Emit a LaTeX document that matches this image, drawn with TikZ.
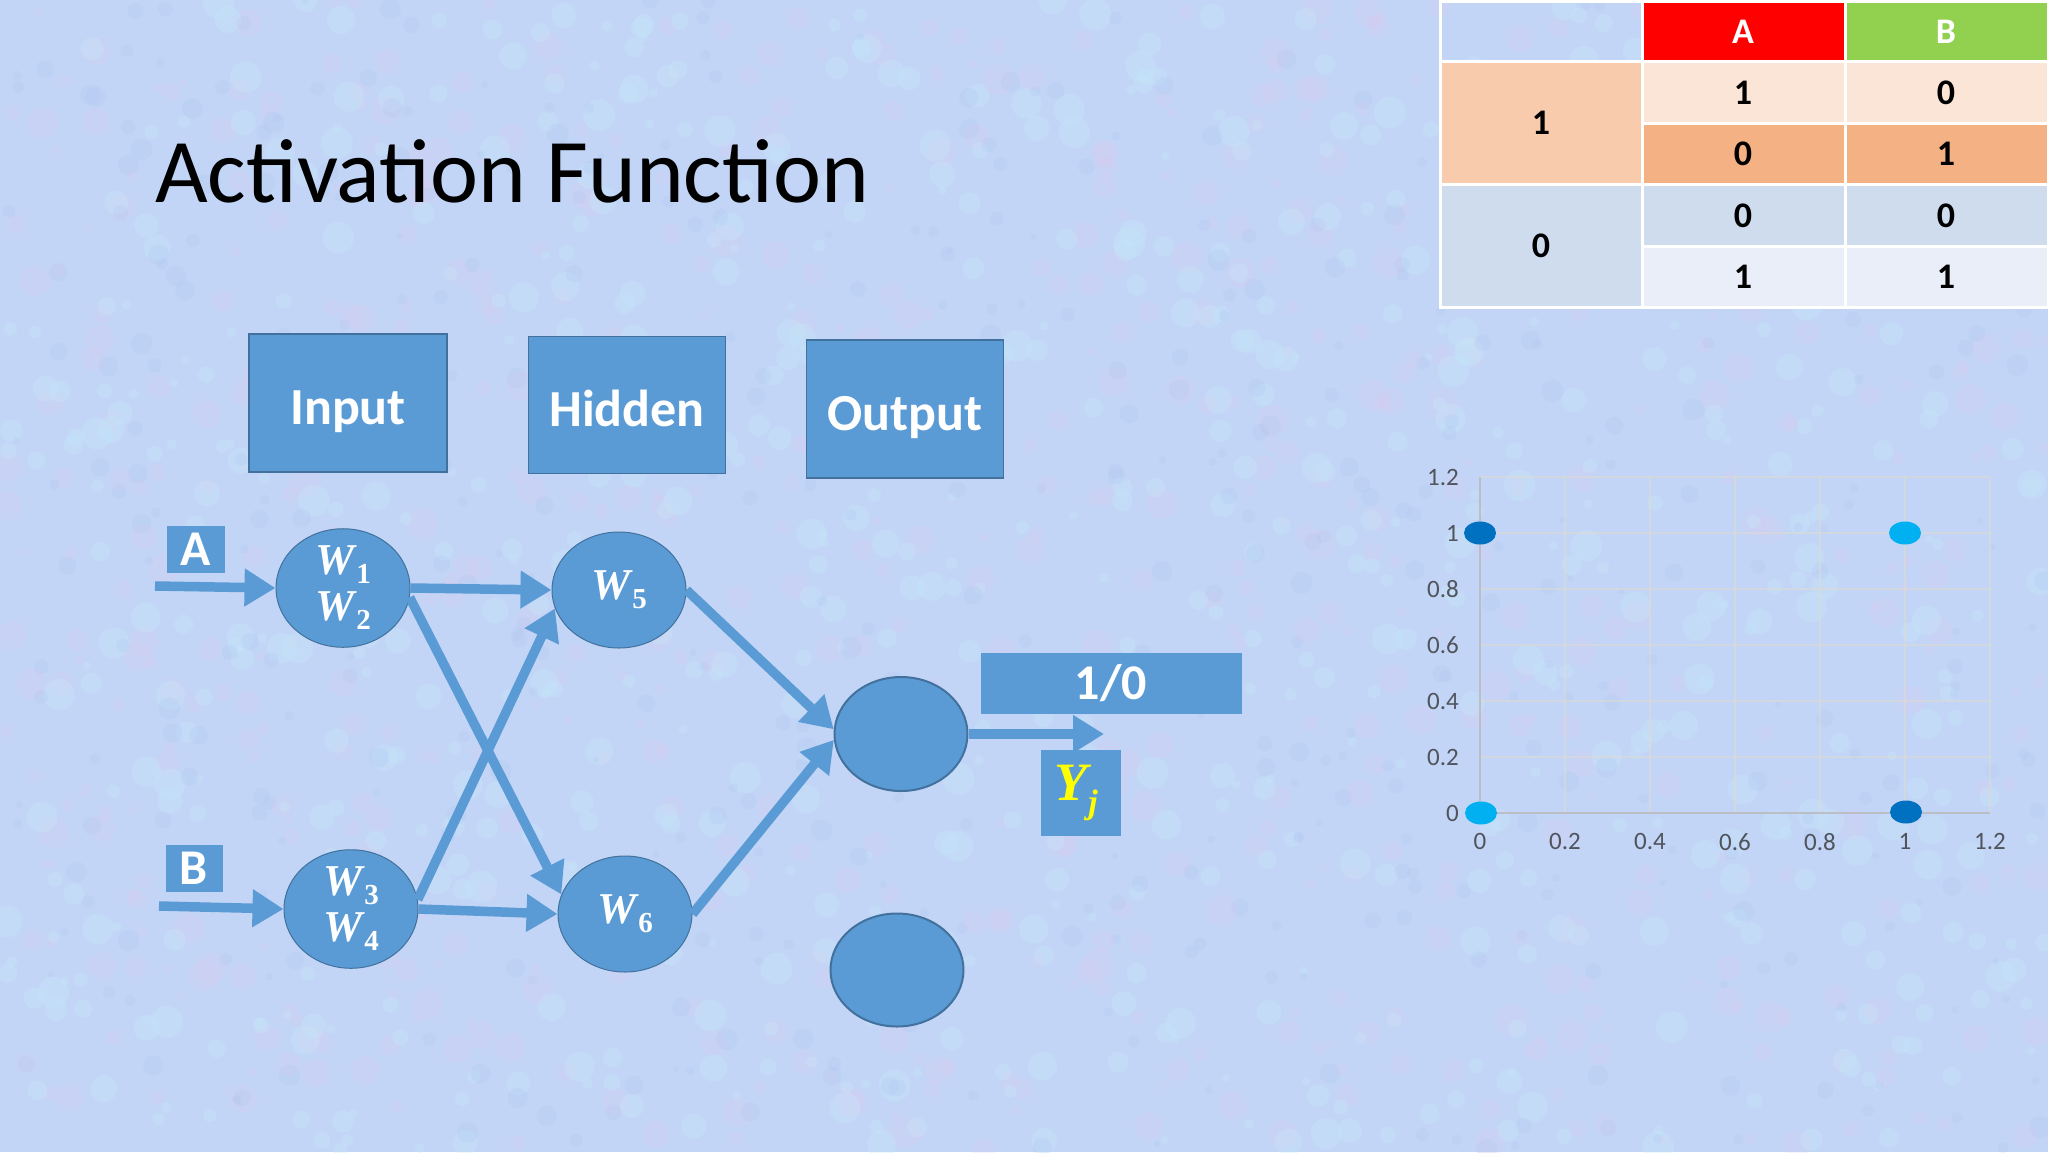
\documentclass[tikz,border=0pt]{standalone}
\usepackage{fontspec}
\setmainfont{Carlito}
\newfontfamily\wfont{Liberation Serif}
\usetikzlibrary{arrows.meta,shapes.geometric}
\definecolor{bg}{RGB}{194,213,246}
\definecolor{blobpink}{RGB}{222,202,240}
\definecolor{blobcyan}{RGB}{198,232,250}
\definecolor{blobdeep}{RGB}{172,194,238}
\definecolor{nblue}{HTML}{5B9BD5}
\definecolor{nedge}{HTML}{41719C}
\definecolor{ycol}{HTML}{FFFF00}
\definecolor{hdrA}{HTML}{FF0000}
\definecolor{hdrB}{HTML}{92D050}
\definecolor{orM}{HTML}{F8CBAD}
\definecolor{orL}{HTML}{FBE5D6}
\definecolor{orD}{HTML}{F4B183}
\definecolor{blM}{HTML}{CFDCEE}
\definecolor{blL}{HTML}{E9EEF8}
\definecolor{gridc}{RGB}{222,218,210}
\definecolor{axisc}{RGB}{188,190,198}
\definecolor{lblc}{RGB}{80,84,92}
\definecolor{dotdark}{HTML}{0070C0}
\definecolor{dotlight}{HTML}{00B0F0}
\newcommand{\wvar}[1]{{\wfont\bfseries\itshape W}\kern2pt\raisebox{-9pt}{\wfont\bfseries\fontsize{29}{29}\selectfont #1}}
\begin{document}
\begin{tikzpicture}[x=1pt,y=-1pt,
  boxnode/.style={draw=nedge, line width=1.5pt, fill=nblue, text=white, inner sep=0pt,
     text height=48pt, text depth=6pt, font=\bfseries\fontsize{52}{60}\selectfont},
  lblbox/.style={fill=nblue, text=white, inner sep=0pt, font=\bfseries\fontsize{50}{56}\selectfont},
  wnode/.style={ellipse, draw=nedge, line width=1pt, fill=nblue, text=white, inner sep=0pt,
     minimum width=134pt, minimum height=116pt, font=\fontsize{44}{46}\selectfont, align=left},
  onode/.style={ellipse, draw=nedge, line width=2pt, fill=nblue, inner sep=0pt,
     minimum width=133pt, minimum height=114pt},
  conn/.style={draw=nblue, line width=9.5pt, -{Triangle[length=31pt,width=36pt]}},
  cell/.style={draw=white, line width=3pt},
  tnum/.style={font=\bfseries\fontsize{36}{40}\selectfont, text=black},
  chartlbl/.style={font=\fontsize{25}{28}\selectfont, text=lblc, inner sep=0pt},
  dot/.style={ellipse, inner sep=0pt, minimum width=32pt, minimum height=23pt}]
\useasboundingbox (0,0) rectangle (2048,1152);
\fill[bg] (0,0) rectangle (2048,1152);
% fine mottled texture
\pgfmathsetseed{4242}
\foreach \k in {1,...,700}{
  \pgfmathsetmacro{\bx}{rnd*2048}\pgfmathsetmacro{\by}{rnd*1152}\pgfmathsetmacro{\br}{4+rnd*12}
  \fill[blobpink, opacity=0.22] (\bx,\by) circle[radius=\br pt];
}
\foreach \k in {1,...,700}{
  \pgfmathsetmacro{\bx}{rnd*2048}\pgfmathsetmacro{\by}{rnd*1152}\pgfmathsetmacro{\br}{4+rnd*12}
  \fill[blobcyan, opacity=0.32] (\bx,\by) circle[radius=\br pt];
}
\foreach \k in {1,...,500}{
  \pgfmathsetmacro{\bx}{rnd*2048}\pgfmathsetmacro{\by}{rnd*1152}\pgfmathsetmacro{\br}{3+rnd*8}
  \fill[blobdeep, opacity=0.2] (\bx,\by) circle[radius=\br pt];
}

% title
\node[anchor=base west, inner sep=0pt, font=\fontsize{91}{100}\selectfont] (title) at (155,202) {Activation Function};

% layer boxes
\node[boxnode, minimum width=198pt, minimum height=138pt] (inbox) at (348,403) {Input};
\node[boxnode, minimum width=197pt, minimum height=137pt] (hidbox) at (627,405) {Hidden};
\node[boxnode, minimum width=197pt, minimum height=138pt] (outbox) at (905,409) {Output};

% input labels
\node[lblbox, minimum width=58pt, minimum height=47pt] (alab) at (196,549) {A};
\node[lblbox, minimum width=57pt, minimum height=47pt] (blab) at (194,868) {B};

% neurons
\node[wnode] (w12) at (343,588) {\wvar{1}\\\wvar{2}};
\node[wnode] (w34) at (351,909) {\wvar{3}\\\wvar{4}};
\node[wnode] (w5) at (619,590) {\wvar{5}};
\node[wnode] (w6) at (625,914) {\wvar{6}};
\node[onode] (o1) at (901,734) {};
\node[onode, minimum height=113pt] (o2) at (897,970) {};

% output labels
\node[fill=nblue, text=white, inner sep=0pt, minimum width=261pt, minimum height=61pt,
      font=\bfseries\fontsize{50}{56}\selectfont] (res) at (1111,683) {1/0};
\node[fill=nblue, text=ycol, inner sep=0pt, minimum width=80pt, minimum height=86pt,
      font=\fontsize{54}{56}\selectfont] (yj) at (1081,793)
      {{\wfont\bfseries\itshape Y}\kern1pt\raisebox{-13pt}{\wfont\bfseries\itshape\fontsize{34}{34}\selectfont j}\hspace*{10pt}};

% connectors
\coordinate (ain) at (155,586);
\coordinate (bin) at (159,906);
\coordinate (yout) at (1104,734);
\draw[conn] (ain) -- (w12.west);
\draw[conn] (bin) -- (w34.west);
\draw[conn] (w12.east) -- (w5.west);
\draw[conn] (w12.-8) -- (w6.163);
\draw[conn] (w34.8) -- (w5.196);
\draw[conn] (w34.east) -- (w6.west);
\draw[conn] (w5.east) -- (o1.176);
\draw[conn] (w6.east) -- (o1.185);
\draw[conn] (o1.east) -- (yout);

% truth table
\draw[cell] (1440,1) rectangle (1642,61);
\draw[cell, fill=hdrA] (1642,1) rectangle (1845,61);
\draw[cell, fill=hdrB] (1845,1) rectangle (2048,61);
\draw[cell, fill=orM] (1440,61) rectangle (1642,184);
\draw[cell, fill=orL] (1642,61) rectangle (1845,123);
\draw[cell, fill=orL] (1845,61) rectangle (2048,123);
\draw[cell, fill=orD] (1642,123) rectangle (1845,184);
\draw[cell, fill=orD] (1845,123) rectangle (2048,184);
\draw[cell, fill=blM] (1440,184) rectangle (1642,307);
\draw[cell, fill=blM] (1642,184) rectangle (1845,246);
\draw[cell, fill=blM] (1845,184) rectangle (2048,246);
\draw[cell, fill=blL] (1642,246) rectangle (1845,307);
\draw[cell, fill=blL] (1845,246) rectangle (2048,307);
\node[tnum, text=white] (hA) at (1743,32) {A};
\node[tnum, text=white] (hB) at (1946,32) {B};
\node[tnum] (m1) at (1541,123) {1};
\node[tnum] (m0) at (1541,246) {0};
\node[tnum] (c11) at (1743,93) {1};
\node[tnum] (c12) at (1946,93) {0};
\node[tnum] (c21) at (1743,154) {0};
\node[tnum] (c22) at (1946,154) {1};
\node[tnum] (c31) at (1743,216) {0};
\node[tnum] (c32) at (1946,216) {0};
\node[tnum] (c41) at (1743,277) {1};
\node[tnum] (c42) at (1946,277) {1};

% scatter chart
\foreach \i in {1,...,6}{
  \draw[gridc, opacity=0.6, line width=1.2pt] (1480+\i*85,477) -- (1480+\i*85,813);
  \draw[gridc, opacity=0.6, line width=1.2pt] (1480,813-\i*56) -- (1990,813-\i*56);
}
\draw[axisc, line width=1.5pt] (1480,477) -- (1480,813);
\draw[axisc, line width=2pt] (1480,813) -- (1990,813);
\foreach \i/\t in {0/0,1/0.2,2/0.4,3/0.6,4/0.8,5/1,6/1.2}{
  \node[chartlbl, anchor=east] at (1459,813-\i*56) {\t};
  \node[chartlbl, anchor=north] at (1480+\i*85,833) {\t};
}
\node[dot, fill=dotdark] (p01) at (1480,533) {};
\node[dot, fill=dotlight] (p11) at (1905,533) {};
\node[dot, fill=dotlight] (p00) at (1481,813) {};
\node[dot, fill=dotdark] (p10) at (1906,812) {};
\end{tikzpicture}
\end{document}
